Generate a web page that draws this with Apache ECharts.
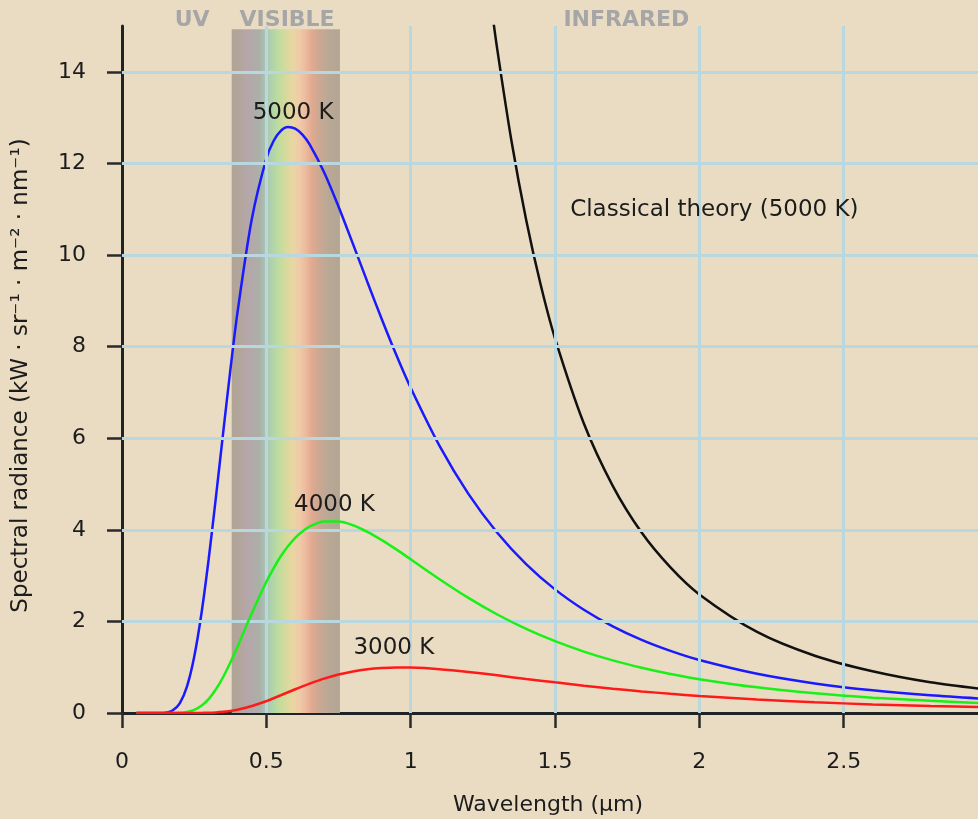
<!DOCTYPE html>
<html>
<head>
<meta charset="utf-8">
<script src="https://cdn.jsdelivr.net/npm/echarts@6/dist/echarts.min.js"></script>
<style>
html,body{margin:0;padding:0;background:#eadcc2;}
#chart{width:978px;height:819px;}
</style>
</head>
<body>
<div id="chart"></div>
<script>
// ---- data ----
const wavelengths = [0.05, 0.1, 0.15, 0.175, 0.2, 0.225, 0.25, 0.275, 0.3, 0.325, 0.35, 0.375, 0.4, 0.45, 0.5, 0.525, 0.55, 0.575, 0.6, 0.625, 0.65, 0.7, 0.75, 0.8, 0.85, 0.9, 0.95, 1.0, 1.1, 1.2, 1.3, 1.4, 1.5, 1.6, 1.7, 1.8, 1.9, 2.0, 2.2, 2.4, 2.6, 2.8, 3.0];
const radiance5000 = [0, 0, 0.007, 0.053, 0.210, 0.577, 1.223, 2.162, 3.346, 4.692, 6.094, 7.468, 8.742, 10.795, 12.107, 12.490, 12.712, 12.796, 12.760, 12.630, 12.415, 11.808, 11.059, 10.242, 9.412, 8.598, 7.821, 7.101, 5.832, 4.785, 3.937, 3.251, 2.699, 2.254, 1.892, 1.597, 1.356, 1.157, 0.856, 0.646, 0.495, 0.386, 0.305];
const radiance4000 = [0, 0, 0, 0.001, 0.006, 0.024, 0.069, 0.158, 0.304, 0.513, 0.781, 1.097, 1.446, 2.181, 2.865, 3.160, 3.423, 3.640, 3.825, 3.965, 4.071, 4.181, 4.182, 4.100, 3.956, 3.775, 3.572, 3.356, 2.922, 2.514, 2.151, 1.837, 1.568, 1.341, 1.149, 0.989, 0.853, 0.739, 0.560, 0.430, 0.335, 0.265, 0.212];
const radiance3000 = [0, 0, 0, 0, 0, 0, 0.001, 0.002, 0.006, 0.013, 0.025, 0.045, 0.072, 0.152, 0.260, 0.322, 0.387, 0.453, 0.518, 0.581, 0.642, 0.751, 0.840, 0.908, 0.955, 0.983, 0.995, 0.992, 0.957, 0.896, 0.822, 0.744, 0.669, 0.597, 0.531, 0.472, 0.419, 0.372, 0.295, 0.235, 0.188, 0.152, 0.124];
const classicalWavelengths = [1.25, 1.28, 1.3, 1.35, 1.4, 1.45, 1.5, 1.6, 1.7, 1.8, 1.9, 2.0, 2.2, 2.4, 2.6, 2.8, 3.0];
const classical5000 = [16.95, 15.42, 14.49, 12.46, 10.77, 9.36, 8.18, 6.32, 4.96, 3.94, 3.18, 2.59, 1.77, 1.25, 0.91, 0.67, 0.51];
const xTicks = [0, 0.5, 1, 1.5, 2, 2.5, 3];
const yTicks = [0, 2, 4, 6, 8, 10, 12, 14];
const visibleBand = [0.38, 0.755];
const bandTop = 14.93;
const curveLabels = [
  {text: '5000 K', at: [0.593, 13.1]},
  {text: '4000 K', at: [0.736, 4.55]},
  {text: '3000 K', at: [0.942, 1.41]},
  {text: 'Classical theory (5000 K)', at: [2.052, 10.98]}
];
const regionLabels = ['UV', 'VISIBLE', 'INFRARED'];
const regionCenters = [0.243, 0.572, 1.747];

// ---- build ----
const zip = (xs, ys) => xs.map((x, i) => [x, ys[i]]);
const FONT = 'DejaVu Sans';
const TXT = '#1c1c1c';

function labelPoint(lbl) {
  return {
    silent: true,
    symbol: 'circle', symbolSize: 1,
    itemStyle: {color: 'rgba(0,0,0,0)'},
    label: {show: true, position: 'inside', color: TXT, fontFamily: FONT, fontSize: 23},
    data: [{coord: lbl.at, value: lbl.text, label: {formatter: lbl.text}}]
  };
}

const chart = echarts.init(document.getElementById('chart'), null, {renderer: 'canvas'});
const axisLineStyle = {color: '#1e2426', width: 3};

const option = {
  backgroundColor: '#eadcc2',
  animation: false,
  grid: {left: 122, top: 26, width: 866, height: 687, containLabel: false, outerBoundsMode: 'none'},
  xAxis: {
    type: 'value', min: 0, max: 3, interval: 0.5,
    name: 'Wavelength (\u00b5m)', nameLocation: 'middle', nameGap: 81,
    nameTextStyle: {color: TXT, fontFamily: FONT, fontSize: 22, padding: [0, 14, 0, 0]},
    axisLine: {show: true, onZero: false, lineStyle: axisLineStyle},
    axisTick: {show: true, inside: false, length: 15, lineStyle: {color: '#2a2a2a', width: 2.5}},
    axisLabel: {color: TXT, fontFamily: FONT, fontSize: 22, margin: 38},
    splitLine: {show: false}
  },
  yAxis: {
    type: 'value', min: 0, max: 15,
    name: 'Spectral radiance (kW \u00b7 sr\u207b\u00b9 \u00b7 m\u207b\u00b2 \u00b7 nm\u207b\u00b9)',
    nameLocation: 'middle', nameGap: 89, nameRotate: 90,
    nameTextStyle: {color: TXT, fontFamily: FONT, fontSize: 23, padding: [0, 12, 0, 0]},
    axisLine: {show: true, onZero: false, lineStyle: axisLineStyle},
    axisTick: {show: true, inside: false, length: 15, customValues: yTicks, lineStyle: {color: '#2a2a2a', width: 2.5}},
    axisLabel: {color: TXT, fontFamily: FONT, fontSize: 22, margin: 36, customValues: yTicks},
    splitLine: {show: false}
  },
  series: [
    {
      name: 'band', type: 'line', z: 1, silent: true,
      data: [[0, 0]], showSymbol: false, lineStyle: {opacity: 0},
      markArea: {
        silent: true,
        itemStyle: {
          opacity: 1,
          color: {
            type: 'linear', x: 0, y: 0, x2: 1, y2: 0,
            colorStops: [
              {offset: 0.00, color: '#b0a496'},
              {offset: 0.08, color: '#b2a59b'},
              {offset: 0.13, color: '#b6a6a8'},
              {offset: 0.19, color: '#b2a9aa'},
              {offset: 0.26, color: '#aab1a8'},
              {offset: 0.32, color: '#aac6b4'},
              {offset: 0.37, color: '#afd3ac'},
              {offset: 0.43, color: '#bedc9e'},
              {offset: 0.50, color: '#d6da9c'},
              {offset: 0.56, color: '#e8d6a2'},
              {offset: 0.63, color: '#f0caa8'},
              {offset: 0.69, color: '#ecb89c'},
              {offset: 0.74, color: '#e2a990'},
              {offset: 0.80, color: '#cea892'},
              {offset: 0.88, color: '#bba896'},
              {offset: 1.00, color: '#b2a694'}
            ]
          }
        },
        data: [[{xAxis: visibleBand[0], yAxis: 0}, {xAxis: visibleBand[1], yAxis: bandTop}]]
      }
    },
    {
      name: 'grid', type: 'line', z: 2, silent: true,
      data: [[0, 0]], showSymbol: false, lineStyle: {opacity: 0},
      markLine: {
        silent: true, symbol: ['none', 'none'],
        label: {show: false},
        lineStyle: {type: 'solid', color: '#b9d7de', width: 3},
        data: xTicks.filter(v => v > 0).map(v => ({xAxis: v}))
          .concat(yTicks.filter(v => v > 0).map(v => ({yAxis: v})))
      }
    },
    {
      name: 'Classical theory (5000 K)', type: 'line', z: 3, clip: true,
      data: zip(classicalWavelengths, classical5000), smooth: 0.3, showSymbol: false,
      lineStyle: {color: '#111111', width: 2.5},
      markPoint: labelPoint(curveLabels[3])
    },
    {
      name: '5000 K', type: 'line', z: 4,
      data: zip(wavelengths, radiance5000), smooth: 0.3, showSymbol: false,
      lineStyle: {color: '#1a1aff', width: 2.5},
      markPoint: labelPoint(curveLabels[0])
    },
    {
      name: '4000 K', type: 'line', z: 5,
      data: zip(wavelengths, radiance4000), smooth: 0.3, showSymbol: false,
      lineStyle: {color: '#18f018', width: 2.5},
      markPoint: labelPoint(curveLabels[1])
    },
    {
      name: '3000 K', type: 'line', z: 6,
      data: zip(wavelengths, radiance3000), smooth: 0.3, showSymbol: false,
      lineStyle: {color: '#ff1a1a', width: 2.5},
      markPoint: labelPoint(curveLabels[2])
    }
  ]
};
chart.setOption(option);

// region labels above the plot, positioned via the x scale
const topY = 20;
chart.setOption({
  graphic: regionLabels.map((t, i) => ({
    type: 'text', silent: true, z: 10,
    x: chart.convertToPixel({xAxisIndex: 0}, regionCenters[i]), y: topY,
    style: {text: t, fill: '#a6a6a6', font: 'bold 22px "DejaVu Sans"', align: 'center', verticalAlign: 'middle'}
  }))
});
</script>
</body>
</html>
